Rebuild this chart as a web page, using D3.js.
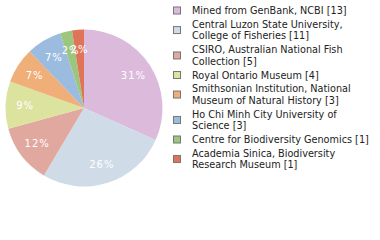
<!DOCTYPE html>
<html>
<head>
<meta charset="utf-8">
<script src="https://cdn.jsdelivr.net/npm/d3@7"></script>
<style>
  body { margin: 0; background: #fff; }
</style>
</head>
<body>
<div id="chart"></div>
<script>
// Data
let labels = [
  ["Mined from GenBank, NCBI [13]"],
  ["Central Luzon State University,", "College of Fisheries [11]"],
  ["CSIRO, Australian National Fish", "Collection [5]"],
  ["Royal Ontario Museum [4]"],
  ["Smithsonian Institution, National", "Museum of Natural History [3]"],
  ["Ho Chi Minh City University of", "Science [3]"],
  ["Centre for Biodiversity Genomics [1]"],
  ["Academia Sinica, Biodiversity", "Research Museum [1]"],
];
let counts = [13, 11, 5, 4, 3, 3, 1, 1];
let colors = [
  "#dcbadc", "#cfdbe6", "#e0a89e", "#dce39e",
  "#f0ae78", "#9bbbdf", "#9cc57e", "#e07458",
];

let width = 380,
  height = 240;

let svg = d3
  .select("#chart")
  .append("svg")
  .attr("width", width)
  .attr("height", height);

let cx = 84,
  cy = 108,
  r = 78.5;

let total = d3.sum(counts);
let pie = d3.pie().sort(null).value((d) => d);
let arcs = pie(counts);

let arc = d3.arc().innerRadius(0).outerRadius(r);
let labelArc = d3.arc().innerRadius(r * 0.75).outerRadius(r * 0.75);

let g = svg.append("g").attr("transform", `translate(${cx},${cy})`);

g.selectAll("path")
  .data(arcs)
  .enter()
  .append("path")
  .attr("d", arc)
  .attr("fill", (d, i) => colors[i]);

// Percent labels (truncated, like the original)
g.selectAll(".pct")
  .data(arcs)
  .enter()
  .append("text")
  .attr("class", "pct")
  .attr("transform", (d) => `translate(${labelArc.centroid(d)})`)
  .attr("text-anchor", "middle")
  .attr("dy", "0.35em")
  .style("font-family", "DejaVu Sans")
  .style("font-size", "10px")
  .style("letter-spacing", "1px")
  .style("fill", "#fff")
  .text((d) => Math.floor((d.data / total) * 100) + "%");

// Legend
let lineH = 11.7;
let y = 14;
labels.forEach((lines, i) => {
  let n = lines.length;
  let item = svg.append("g");
  let mid = y - 3.5 + ((n - 1) * lineH) / 2;
  item
    .append("rect")
    .attr("x", 173.5)
    .attr("y", mid - 3.5)
    .attr("width", 7)
    .attr("height", 7)
    .attr("fill", colors[i])
    .attr("stroke", "#777")
    .attr("stroke-width", 1);
  item
    .append("text")
    .attr("x", 192)
    .attr("y", y)
    .style("font-family", "DejaVu Sans")
    .style("font-size", "9.7px")
    .style("fill", "#222")
    .selectAll("tspan")
    .data(lines)
    .enter()
    .append("tspan")
    .attr("x", 192)
    .attr("dy", (d, j) => (j === 0 ? 0 : lineH))
    .text((d) => d);
  y += n * lineH + 2;
});
</script>
</body>
</html>
